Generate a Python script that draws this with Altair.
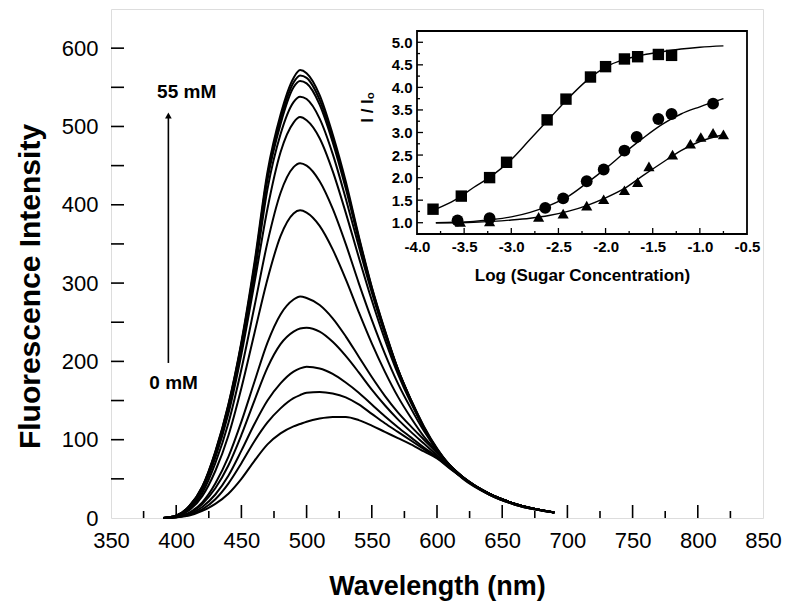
import altair as alt
import pandas as pd

# ---------------- data: main spectra ----------------
WAVELENGTH = [390, 400, 410, 420, 430, 440, 450, 460, 470, 480, 490, 495, 500, 510,
              520, 530, 540, 550, 560, 570, 580, 590, 600, 610, 620, 640, 660, 690]

S01 = [0, 1, 3, 9, 18, 31, 50, 73, 94, 108, 117, 120, 123, 127, 129, 129, 125, 118, 110, 102, 94, 85, 76, 63, 51, 31, 18, 7]
S02 = [0, 1, 4, 11, 24, 44, 70, 98, 122, 140, 153, 157, 160, 161, 159, 154, 145, 133, 121, 110, 99, 88, 77, 64, 51, 31, 18, 7]
S03 = [0, 1, 5, 14, 30, 54, 86, 120, 150, 172, 187, 191, 193, 191, 184, 173, 160, 145, 130, 116, 103, 90, 78, 64, 51, 31, 18, 7]
S04 = [0, 1, 6, 18, 38, 67, 106, 150, 192, 222, 238, 242, 243, 238, 225, 207, 186, 164, 144, 126, 110, 95, 80, 65, 51, 31, 18, 7]
S05 = [0, 2, 7, 20, 44, 78, 123, 174, 224, 260, 279, 283, 281, 272, 255, 232, 206, 180, 156, 135, 117, 100, 83, 66, 52, 31, 18, 7]
S06 = [0, 2, 10, 28, 60, 105, 166, 236, 305, 360, 389, 393, 390, 373, 343, 305, 263, 223, 187, 155, 128, 104, 85, 67, 52, 31, 18, 7]
S07 = [0, 2, 12, 32, 70, 121, 190, 270, 352, 415, 448, 453, 450, 430, 395, 350, 300, 253, 210, 172, 140, 111, 87, 67, 52, 31, 18, 7]
S08 = [0, 3, 13, 36, 77, 133, 209, 300, 395, 467, 505, 512, 508, 485, 443, 390, 333, 278, 228, 184, 147, 115, 88, 67, 52, 31, 18, 7]
S09 = [0, 3, 14, 38, 81, 139, 217, 310, 420, 490, 531, 538, 535, 510, 465, 408, 347, 288, 235, 189, 151, 117, 89, 67, 52, 31, 18, 7]
S10 = [0, 3, 15, 39, 83, 142, 221, 318, 432, 503, 550, 558, 555, 528, 480, 421, 355, 292, 238, 190, 151, 116, 88, 66, 51, 30, 17, 7]
S11 = [0, 3, 15, 40, 84, 144, 223, 322, 437, 509, 556, 565, 562, 534, 485, 426, 358, 294, 239, 190, 150, 115, 87, 66, 51, 30, 17, 7]
S12 = [0, 3, 15, 40, 85, 145, 225, 326, 442, 515, 562, 572, 568, 540, 490, 430, 360, 295, 240, 190, 150, 115, 86, 65, 50, 30, 17, 7]
SPECTRA = [S01, S02, S03, S04, S05, S06, S07, S08, S09, S10, S11, S12]

X_LABELS = [350, 400, 450, 500, 550, 600, 650, 700, 750, 800, 850]
X_MAJOR_TICKS = [400, 450, 500, 550, 600, 650, 700, 750, 800]
X_MINOR_TICKS = [375, 425, 475, 525, 575, 625, 675, 725, 775, 825]
Y_LABELS = [0, 100, 200, 300, 400, 500, 600]
Y_TICKS = [50, 100, 150, 200, 250, 300, 350, 400, 450, 500, 550, 600]

ARROW_X = [394]
ARROW_FROM = [198]
ARROW_TO = [512]
ARROW_HEAD = [514]
NOTE_TEXT = ["55 mM", "0 mM"]
NOTE_X = [408, 398]
NOTE_Y = [544, 172]

# ---------------- data: inset ----------------
SQ_X = [-3.83, -3.53, -3.23, -3.05, -2.62, -2.42, -2.16, -2.0, -1.8, -1.66, -1.44, -1.3]
SQ_Y = [1.30, 1.59, 2.0, 2.34, 3.28, 3.74, 4.23, 4.46, 4.63, 4.68, 4.73, 4.71]
CI_X = [-3.57, -3.23, -2.64, -2.45, -2.2, -2.02, -1.8, -1.67, -1.44, -1.3, -0.86]
CI_Y = [1.05, 1.10, 1.33, 1.54, 1.92, 2.18, 2.60, 2.90, 3.30, 3.41, 3.64]
TR_X = [-3.54, -3.23, -2.71, -2.45, -2.2, -2.02, -1.8, -1.66, -1.54, -1.29, -1.1, -0.99, -0.86, -0.75]
TR_Y = [1.02, 1.03, 1.13, 1.20, 1.38, 1.52, 1.72, 1.90, 2.25, 2.51, 2.75, 2.90, 2.99, 2.96]

FIT_X = [-3.8, -3.6, -3.4, -3.2, -3.0, -2.8, -2.6, -2.4, -2.2, -2.0, -1.8, -1.6, -1.4, -1.2, -1.0, -0.75]
SQ_FIT = [1.30, 1.50, 1.78, 2.05, 2.40, 2.85, 3.30, 3.75, 4.15, 4.45, 4.62, 4.72, 4.79, 4.85, 4.89, 4.92]
CI_FIT = [1.00, 1.01, 1.03, 1.07, 1.13, 1.23, 1.38, 1.58, 1.88, 2.20, 2.55, 2.88, 3.18, 3.41, 3.57, 3.75]
TR_FIT = [1.00, 1.00, 1.01, 1.03, 1.06, 1.10, 1.16, 1.25, 1.38, 1.55, 1.76, 2.05, 2.33, 2.60, 2.80, 2.95]

INSET_X_DOMAIN = [-4.0, -0.5]
INSET_Y_DOMAIN = [0.75, 5.25]
IX_LABELS = [-4.0, -3.5, -3.0, -2.5, -2.0, -1.5, -1.0, -0.5]
IX_MAJOR = [-3.5, -3.0, -2.5, -2.0, -1.5, -1.0]
IX_MINOR = [-3.75, -3.25, -2.75, -2.25, -1.75, -1.25, -0.75]
IY_LABELS = [1.0, 1.5, 2.0, 2.5, 3.0, 3.5, 4.0, 4.5, 5.0]
IY_MINOR = [1.25, 1.75, 2.25, 2.75, 3.25, 3.75, 4.25, 4.75]

# ---------------- layout ----------------
W, H = 652, 509
FONT = "Liberation Sans"
INSET_L, INSET_R = 306, 636      # pixel range of inset x scale inside the plot
INSET_B, INSET_T = 225, 22       # pixel range of inset y scale inside the plot

xs = alt.Scale(domain=[350, 850], nice=False, zero=False)
ys = alt.Scale(domain=[0, 650], nice=False, zero=False)

rows = []
for i, s in enumerate(SPECTRA):
    for w, v in zip(WAVELENGTH, s):
        rows.append({"wl": w, "I": v, "curve": i})
spec_df = pd.DataFrame(rows)

x_axis = alt.Axis(values=X_LABELS, ticks=False, grid=False, domain=False,
                  labelFont=FONT, labelFontSize=22, labelColor="black", labelPadding=12,
                  labelFlush=False, title="Wavelength (nm)", titleFont=FONT,
                  titleFontSize=27, titleFontWeight="bold", titleColor="black",
                  titleY=68, titleBaseline="middle")
y_axis = alt.Axis(values=Y_LABELS, ticks=False, grid=False, domain=False,
                  labelFont=FONT, labelFontSize=22, labelColor="black", labelPadding=13,
                  labelFlush=False, title="Fluorescence Intensity", titleFont=FONT,
                  titleFontSize=30, titleFontWeight="bold", titleColor="black",
                  titleX=-81, titleY=277, titleBaseline="middle", titleAlign="center")

lines = alt.Chart(spec_df).mark_line(color="black", strokeWidth=2, interpolate="monotone").encode(
    x=alt.X("wl:Q", scale=xs, axis=x_axis),
    y=alt.Y("I:Q", scale=ys, axis=y_axis),
    detail="curve:N",
)

xmaj = alt.Chart(pd.DataFrame({"v": X_MAJOR_TICKS})).mark_rule(color="black", strokeWidth=1.6).encode(
    x=alt.X("v:Q", scale=xs), y=alt.value(H), y2=alt.value(H - 13))
xmin = alt.Chart(pd.DataFrame({"v": X_MINOR_TICKS})).mark_rule(color="black", strokeWidth=1.6).encode(
    x=alt.X("v:Q", scale=xs), y=alt.value(H), y2=alt.value(H - 7))
yt = alt.Chart(pd.DataFrame({"v": Y_TICKS})).mark_rule(color="black", strokeWidth=1.6).encode(
    y=alt.Y("v:Q", scale=ys), x=alt.value(0), x2=alt.value(13))

arrow_df = pd.DataFrame({"x": ARROW_X, "y0": ARROW_FROM, "y1": ARROW_TO, "yh": ARROW_HEAD})
arrow = alt.Chart(arrow_df).mark_rule(color="black", strokeWidth=1.6).encode(
    x=alt.X("x:Q", scale=xs), y=alt.Y("y0:Q", scale=ys), y2="y1:Q")
head = alt.Chart(arrow_df).mark_point(shape="triangle-up", filled=True, color="black",
                                      size=45, opacity=1).encode(
    x=alt.X("x:Q", scale=xs), y=alt.Y("yh:Q", scale=ys))
notes = alt.Chart(pd.DataFrame({"t": NOTE_TEXT, "x": NOTE_X, "y": NOTE_Y})).mark_text(
    font=FONT, fontSize=19, fontWeight="bold", color="black", baseline="middle", align="center").encode(
    x=alt.X("x:Q", scale=xs), y=alt.Y("y:Q", scale=ys), text="t:N")

main = alt.layer(lines, xmaj, xmin, yt, arrow, head, notes)

# ---------------- inset ----------------
ixs = alt.Scale(domain=INSET_X_DOMAIN, range=[INSET_L, INSET_R], nice=False, zero=False)
iys = alt.Scale(domain=INSET_Y_DOMAIN, range=[INSET_B, INSET_T], nice=False, zero=False)

HYPHEN_EXPR = "replace(format(datum.value, '.1f'), '\u2212', '-')"

ix_axis = alt.Axis(orient="bottom", offset=-(H - INSET_B), values=IX_LABELS,
                   labelExpr=HYPHEN_EXPR,
                   ticks=False, grid=False, domain=False, labelFont=FONT, labelFontSize=15,
                   labelFontWeight="bold", labelColor="black", labelPadding=5, labelFlush=False,
                   title="Log (Sugar Concentration)", titleFont=FONT, titleFontSize=17,
                   titleFontWeight="bold", titleColor="black", titleY=41, titleBaseline="middle")
iy_axis = alt.Axis(orient="left", offset=-INSET_L, values=IY_LABELS, format=".1f",
                   ticks=False, grid=False, domain=False, labelFont=FONT, labelFontSize=15,
                   labelFontWeight="bold", labelColor="black", labelPadding=5, labelFlush=False,
                   title="I / Iₒ", titleFont=FONT, titleFontSize=17, titleFontWeight="bold",
                   titleColor="black", titleX=-50, titleY=98, titleBaseline="middle",
                   titleAlign="center")

frame_df = pd.DataFrame({"x0": [INSET_X_DOMAIN[0]], "x1": [INSET_X_DOMAIN[1]],
                         "y0": [INSET_Y_DOMAIN[0]], "y1": [INSET_Y_DOMAIN[1]]})
frame = alt.Chart(frame_df).mark_rect(fill="white", stroke="black", strokeWidth=1.8).encode(
    x=alt.X("x0:Q", scale=ixs, axis=ix_axis), x2="x1:Q",
    y=alt.Y("y0:Q", scale=iys, axis=iy_axis), y2="y1:Q")

fit_rows = []
for name, ys_ in (("sq", SQ_FIT), ("ci", CI_FIT), ("tr", TR_FIT)):
    for xv, yv in zip(FIT_X, ys_):
        fit_rows.append({"x": xv, "y": yv, "s": name})
fits = alt.Chart(pd.DataFrame(fit_rows)).mark_line(color="black", strokeWidth=1.4,
                                                   interpolate="monotone").encode(
    x=alt.X("x:Q", scale=ixs), y=alt.Y("y:Q", scale=iys), detail="s:N")

def pts(xv, yv, shape, size):
    return alt.Chart(pd.DataFrame({"x": xv, "y": yv})).mark_point(
        shape=shape, filled=True, color="black", size=size, opacity=1).encode(
        x=alt.X("x:Q", scale=ixs), y=alt.Y("y:Q", scale=iys))

sq = pts(SQ_X, SQ_Y, "square", 130)
ci = pts(CI_X, CI_Y, "circle", 140)
tr = pts(TR_X, TR_Y, "triangle-up", 125)

ixmaj = alt.Chart(pd.DataFrame({"v": IX_MAJOR})).mark_rule(color="black", strokeWidth=1.3).encode(
    x=alt.X("v:Q", scale=ixs), y=alt.value(INSET_B), y2=alt.value(INSET_B - 6))
ixmin = alt.Chart(pd.DataFrame({"v": IX_MINOR})).mark_rule(color="black", strokeWidth=1.3).encode(
    x=alt.X("v:Q", scale=ixs), y=alt.value(INSET_B), y2=alt.value(INSET_B - 3))
iymaj = alt.Chart(pd.DataFrame({"v": IY_LABELS})).mark_rule(color="black", strokeWidth=1.3).encode(
    y=alt.Y("v:Q", scale=iys), x=alt.value(INSET_L), x2=alt.value(INSET_L + 6))
iymin = alt.Chart(pd.DataFrame({"v": IY_MINOR})).mark_rule(color="black", strokeWidth=1.3).encode(
    y=alt.Y("v:Q", scale=iys), x=alt.value(INSET_L), x2=alt.value(INSET_L + 3))

inset = alt.layer(frame, fits, sq, ci, tr, ixmaj, ixmin, iymaj, iymin)

chart = alt.layer(main, inset).resolve_scale(x="independent", y="independent").properties(
    width=W, height=H,
    autosize=alt.AutoSizeParams(type="none"),
    padding={"left": 111, "top": 9, "right": 25, "bottom": 90},
).configure_view(stroke="black", strokeWidth=2).configure(background="white")

chart.save("out.html", embed_options={"renderer": "svg", "actions": False})
